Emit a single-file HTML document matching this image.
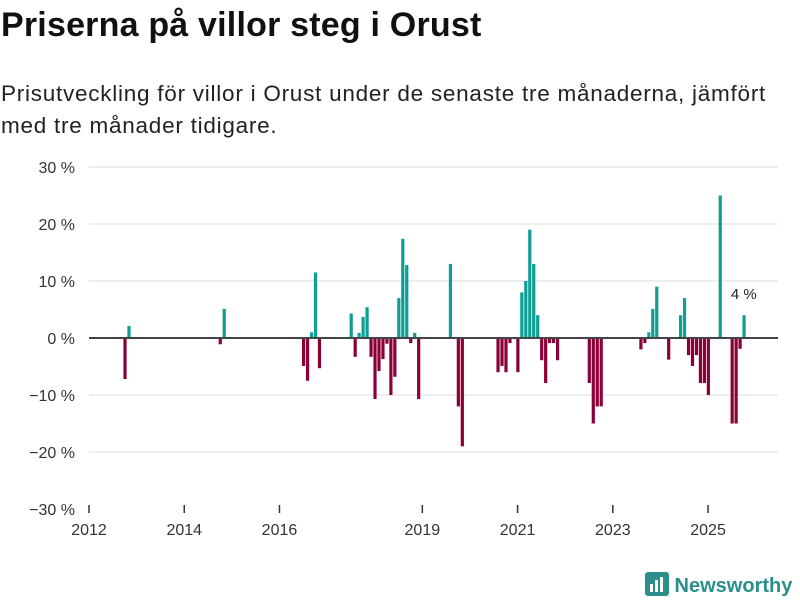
<!DOCTYPE html>
<html><head><meta charset="utf-8"><style>
body{margin:0;width:800px;height:600px;background:#fff;font-family:"Liberation Sans",sans-serif;overflow:hidden;position:relative;color:#111}
h1{position:absolute;left:1px;top:6px;margin:0;font-size:34px;font-weight:bold;letter-spacing:0.2px}
.sub{position:absolute;left:1px;top:78px;margin:0;font-size:22.5px;line-height:32px;width:799px;color:#222;letter-spacing:0.75px;white-space:nowrap}
svg{position:absolute;left:0;top:0}
.logo{position:absolute;left:645px;top:568px;font-size:20px;font-weight:bold;color:#2a8f8a}
</style></head><body>
<h1>Priserna på villor steg i Orust</h1>
<p class="sub">Prisutveckling för villor i Orust under de senaste tre månaderna, jämfört<br>med tre månader tidigare.</p>
<svg id="c" width="800" height="600"></svg>
<div class="logo"><svg width="24" height="24" style="position:relative;top:4px;left:0" viewBox="0 0 24 24"><rect x="0" y="0" width="24" height="24" rx="3" fill="#2a8f8a"/><rect x="5" y="12" width="3" height="8" fill="#fff"/><rect x="10" y="8" width="3" height="12" fill="#fff"/><rect x="15" y="5" width="3" height="15" fill="#fff"/></svg> Newsworthy</div>
<script>
const months=[9,10,33,34,54,55,56,57,58,66,67,68,69,70,71,72,73,74,75,76,77,78,79,80,81,82,83,91,93,94,103,104,105,106,108,109,110,111,112,113,114,115,116,117,118,126,127,128,129,139,140,141,142,143,146,149,150,151,152,153,154,155,156,159,162,163,164,165];
const values=[-7.2,2.1,-1.1,5.1,-4.9,-7.5,1,11.5,-5.3,4.3,-3.3,0.9,3.7,5.4,-3.3,-10.7,-5.8,-3.7,-1,-10,-6.8,7,17.4,12.8,-0.9,0.9,-10.7,13,-12,-19,-6,-4.9,-6,-0.9,-6,8,10,19,13,4,-3.9,-7.9,-0.9,-0.9,-3.9,-7.9,-15,-12,-12,-2,-0.9,1,5.1,9,-3.8,4,7,-3,-4.9,-3,-7.9,-7.9,-10,25,-15,-15,-1.9,4];
const yTicks=[30,20,10,0,-10,-20,-30];
const xTickYears=[2012,2014,2016,2019,2021,2023,2025];
const NS="http://www.w3.org/2000/svg";
const svg=document.getElementById('c');
const x0=89,perYear=47.62;
function xs(m){return x0+m*perYear/12;}
function ys(v){return 338-v*5.7;}
function mk(t,a){const e=document.createElementNS(NS,t);for(const k in a)e.setAttribute(k,a[k]);svg.appendChild(e);return e;}
yTicks.forEach(v=>{
 if(v!==0&&v!==-30){const l=mk('line',{x1:89,x2:778,y1:ys(v),y2:ys(v),stroke:'#ddd','stroke-width':1});
 
 }
 const t=mk('text',{x:75,y:ys(v)+6,'text-anchor':'end','font-size':16,fill:'#333','font-family':'Liberation Sans, sans-serif'});
 t.textContent=(v<0?'−'+(-v):v)+' %';
 
 
});
xTickYears.forEach(yr=>{
 const x=xs((yr-2012)*12);
 const tk=mk('line',{x1:x,x2:x,y1:505,y2:513,stroke:'#333','stroke-width':1.5});
 
 
 const t=mk('text',{x:x,y:535,'text-anchor':'middle','font-size':16,fill:'#333','font-family':'Liberation Sans, sans-serif'});
 t.textContent=yr;
 
 
});
months.forEach((m,i)=>{
 const v=values[i];const y=ys(Math.max(v,0)),h=Math.abs(ys(v)-ys(0));
 const r=mk('rect',{x:xs(m)-1.3,y:y,width:3.2,height:h,fill:v>=0?'#0d9e94':'#8c0038'});
 
 
});
const zl=mk('line',{x1:89,x2:778,y1:ys(0),y2:ys(0),stroke:'#444','stroke-width':2});


const li=months.length-1;
const lab=mk('text',{x:xs(months[li]),y:ys(values[li])-16,'text-anchor':'middle','font-size':15,fill:'#222','font-family':'Liberation Sans, sans-serif'});
lab.textContent=values[li]+' %';


</script>
</body></html>
